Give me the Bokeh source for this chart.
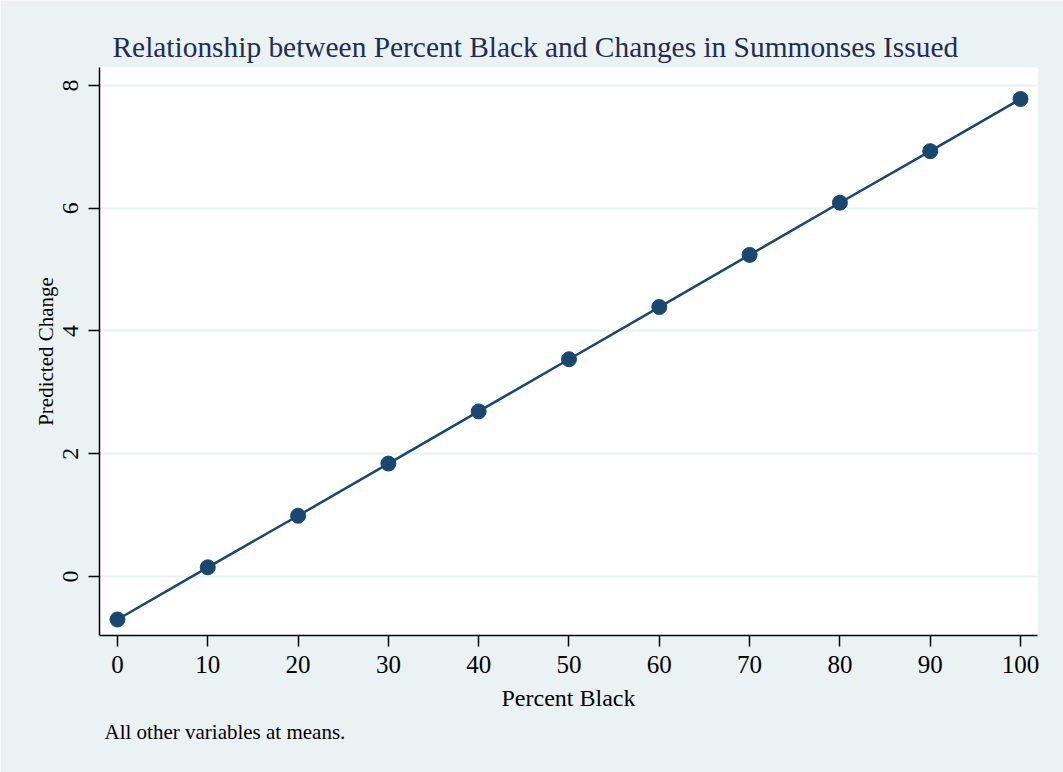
from bokeh.plotting import figure
from bokeh.models import Range1d, FixedTicker, Title
from bokeh.embed import file_html
from bokeh.resources import INLINE

# Predicted change in summonses by percent Black (other covariates at means)
percent_black = [0, 10, 20, 30, 40, 50, 60, 70, 80, 90, 100]
predicted_change = [-0.70, 0.15, 0.99, 1.84, 2.69, 3.54, 4.39, 5.24, 6.09, 6.93, 7.78]
x_ticks = [0, 10, 20, 30, 40, 50, 60, 70, 80, 90, 100]
y_ticks = [0, 2, 4, 6, 8]

BG = "#EAF2F3"
NAVY = "#1A476F"
SERIF = "Liberation Serif"

p = figure(
    frame_width=938, frame_height=568,
    min_border_left=99, min_border_right=26,
    min_border_top=67, min_border_bottom=137,
    x_range=Range1d(-1.99, 101.88), y_range=Range1d(-0.961, 8.293),
    output_backend="svg", toolbar_location=None,
    background_fill_color="white", border_fill_color=BG,
    outline_line_color=None,
)

p.title.text = "Relationship between Percent Black and Changes in Summonses Issued"
p.title.text_font = SERIF
p.title.text_font_size = "29.4px"
p.title.text_font_style = "normal"
p.title.text_color = "#1F2D55"
p.title.align = "left"
p.title.offset = 13
p.title.standoff = 10

# grid: only horizontal lines in the background colour
p.xgrid.grid_line_color = None
p.ygrid.grid_line_color = BG
p.ygrid.grid_line_width = 2

for ax in (p.xaxis[0], p.yaxis[0]):
    ax.axis_line_color = "black"
    ax.axis_line_width = 1.5
    ax.major_tick_line_color = "black"
    ax.major_tick_line_width = 1.5
    ax.major_tick_out = 11
    ax.major_tick_in = 0
    ax.minor_tick_line_color = None
    ax.major_label_text_font = SERIF
    ax.major_label_text_color = "black"
    ax.axis_label_text_font = SERIF
    ax.axis_label_text_font_style = "normal"
    ax.axis_label_text_color = "black"

p.xaxis.ticker = FixedTicker(ticks=x_ticks)
p.xaxis.major_label_text_font_size = "25px"
p.xaxis.major_label_standoff = 9
p.xaxis.axis_label = "Percent Black"
p.xaxis.axis_label_text_font_size = "24px"
p.xaxis.axis_label_standoff = 9

p.yaxis.ticker = FixedTicker(ticks=y_ticks)
p.yaxis.major_label_orientation = "vertical"
p.yaxis.major_label_text_font_size = "24px"
p.yaxis.major_label_standoff = 10
p.yaxis.axis_label = "Predicted Change"
p.yaxis.axis_label_text_font_size = "21px"
p.yaxis.axis_label_standoff = 3

p.line(percent_black, predicted_change, line_color=NAVY, line_width=2.5)
p.scatter(percent_black, predicted_change, size=15, fill_color=NAVY, line_color=NAVY)

note = Title(text="All other variables at means.", align="left", offset=5,
             text_font=SERIF, text_font_size="21px", text_font_style="normal",
             text_color="black", standoff=8)
p.add_layout(note, "below")

open("out.html", "w").write(file_html(p, INLINE))
